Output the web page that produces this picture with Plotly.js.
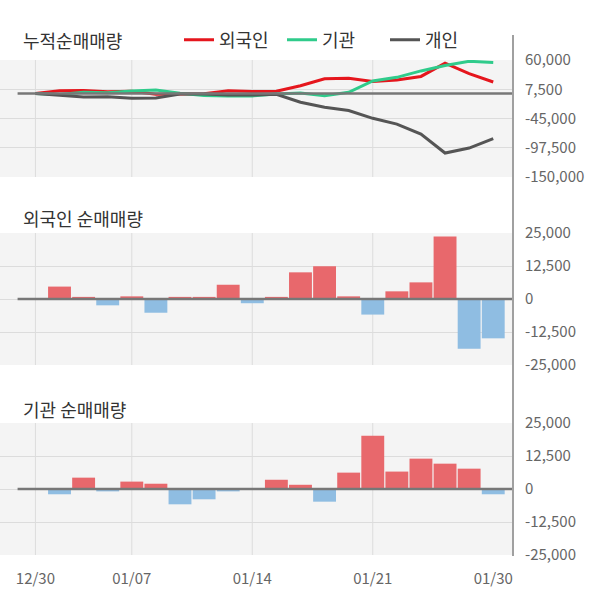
<!DOCTYPE html>
<html>
<head>
<meta charset="utf-8">
<script src="https://cdn.plot.ly/plotly-3.0.1.min.js"></script>
<style>
  html, body { margin: 0; padding: 0; background: #fff; }
  #chart { width: 600px; height: 604px; }
</style>
</head>
<body>
<div id="chart"></div>
<script>
const dates = ['12/30', '01/02', '01/03', '01/06', '01/07', '01/08', '01/09', '01/10', '01/13', '01/14',
  '01/15', '01/16', '01/17', '01/20', '01/21', '01/22', '01/23', '01/28', '01/29', '01/30'];
const tickDates = ['12/30', '01/07', '01/14', '01/21', '01/30'];
const gridDates = ['12/30', '01/07', '01/14', '01/21'];

// cumulative net buying
const cumForeign = [0, 4700, 5200, 2800, 3700, -1500, -1000, -500, 4900, 3300,
  3800, 13900, 26300, 27200, 21300, 24200, 30500, 54200, 35400, 20500];
const cumInst = [0, -2000, 2300, 1400, 4200, 6200, 400, -3500, -4400, -4400,
  -900, 700, -4100, 2100, 22300, 28900, 40400, 50000, 57700, 55700];
const cumIndiv = [0, -3000, -6600, -6000, -8500, -8000, -1000, -1000, -3000, -3000,
  -1500, -15700, -24800, -30800, -44700, -55000, -73000, -107000, -98000, -81000];

// daily net buying
const foreignDaily = [null, 4700, 800, -2400, 1000, -5200, 800, 800, 5400, -1600,
  800, 10100, 12400, 1000, -5900, 2900, 6300, 23700, -18800, -14900];
const instDaily = [null, -2000, 4300, -900, 2800, 2000, -5800, -3900, -900, 0,
  3500, 1600, -4800, 6200, 20200, 6600, 11500, 9600, 7700, -2000];

const topTicks = [60000, 7500, -45000, -97500, -150000];
const barTicks = [25000, 12500, 0, -12500, -25000];

const RED = '#e8686c', BLUE = '#8fbde2';
const barColors = vals => vals.map(v => (v != null && v < 0) ? BLUE : RED);
const fmt = v => v.toLocaleString('en-US');

const FONT = '"Noto Sans CJK KR", "Noto Sans", sans-serif';
const W = 600, H = 604, PLOT_R = 513;
const py = p => 1 - p / H;   // page pixel -> paper y

const traces = [
  { x: dates, y: cumForeign, type: 'scatter', mode: 'lines', name: '외국인',
    line: { color: '#e5161d', width: 3 }, xaxis: 'x', yaxis: 'y' },
  { x: dates, y: cumInst, type: 'scatter', mode: 'lines', name: '기관',
    line: { color: '#2fcb8b', width: 3 }, xaxis: 'x', yaxis: 'y' },
  { x: dates, y: cumIndiv, type: 'scatter', mode: 'lines', name: '개인',
    line: { color: '#555555', width: 3 }, xaxis: 'x', yaxis: 'y' },
  { x: dates, y: foreignDaily, type: 'bar', showlegend: false,
    marker: { color: barColors(foreignDaily) }, xaxis: 'x2', yaxis: 'y2' },
  { x: dates, y: instDaily, type: 'bar', showlegend: false,
    marker: { color: barColors(instDaily) }, xaxis: 'x3', yaxis: 'y3' },
];

const xRange = [-1.47, 19.82];
const xBase = {
  type: 'category', categoryorder: 'array', categoryarray: dates,
  range: xRange, showgrid: false, zeroline: false, showline: false,
  fixedrange: true, automargin: false,
};
const yBase = {
  side: 'right', gridcolor: '#dcdcdc', gridwidth: 1, zeroline: false, showline: false,
  tickfont: { family: FONT, size: 15, color: '#666' }, ticks: '', ticklabelstandoff: 11,
  automargin: false, fixedrange: true,
};

const shapes = [];
[['x', 'y'], ['x2', 'y2'], ['x3', 'y3']].forEach(([xa, ya]) => {
  gridDates.forEach(d => shapes.push({
    type: 'line', xref: xa, yref: ya + ' domain', x0: d, x1: d, y0: 0, y1: 1,
    line: { color: '#dcdcdc', width: 1 }, layer: 'below',
  }));
  shapes.push({
    type: 'line', xref: xa, yref: ya, x0: -0.74, x1: xRange[1], y0: 0, y1: 0,
    line: { color: '#777', width: 2.5 },
  });
});
shapes.push({
  type: 'line', xref: 'paper', yref: 'paper', x0: 1, x1: 1, y0: py(556), y1: py(35),
  line: { color: '#a0a0a0', width: 2 },
});

const titleAnn = (text, p) => ({
  text, xref: 'paper', yref: 'paper', x: 21 / PLOT_R, y: py(p),
  xanchor: 'left', yanchor: 'middle', showarrow: false,
  font: { family: FONT, size: 18, color: '#333' },
});

const layout = {
  width: W, height: H,
  margin: { l: 0, r: W - PLOT_R, t: 0, b: 0 },
  paper_bgcolor: '#fff', plot_bgcolor: '#f4f4f4',
  font: { family: FONT },
  bargap: 0.05,
  showlegend: true,
  legend: {
    orientation: 'h', x: 179 / PLOT_R, y: py(40), xanchor: 'left', yanchor: 'middle',
    font: { family: FONT, size: 18, color: '#333' }, bgcolor: 'rgba(0,0,0,0)',
    itemwidth: 30, traceorder: 'normal', entrywidth: 58, entrywidthmode: 'pixels',
  },
  xaxis: { ...xBase, anchor: 'y', showticklabels: false },
  xaxis2: { ...xBase, anchor: 'y2', showticklabels: false },
  xaxis3: { ...xBase, anchor: 'y3', tickmode: 'array', tickvals: tickDates,
    tickfont: { family: FONT, size: 15, color: '#666' }, ticks: '', ticklabelstandoff: 13 },
  yaxis: { ...yBase, anchor: 'x', domain: [py(177), py(60)], range: [-150000, 60000],
    tickmode: 'array', tickvals: topTicks, ticktext: topTicks.map(fmt) },
  yaxis2: { ...yBase, anchor: 'x2', domain: [py(365), py(233)], range: [-25000, 25000],
    tickmode: 'array', tickvals: barTicks, ticktext: barTicks.map(fmt) },
  yaxis3: { ...yBase, anchor: 'x3', domain: [py(555), py(423)], range: [-25000, 25000],
    tickmode: 'array', tickvals: barTicks, ticktext: barTicks.map(fmt) },
  shapes,
  annotations: [
    titleAnn('누적순매매량', 40),
    titleAnn('외국인 순매매량', 218),
    titleAnn('기관 순매매량', 409),
  ],
};

Plotly.newPlot('chart', traces, layout, { displayModeBar: false, staticPlot: true });
</script>
</body>
</html>
